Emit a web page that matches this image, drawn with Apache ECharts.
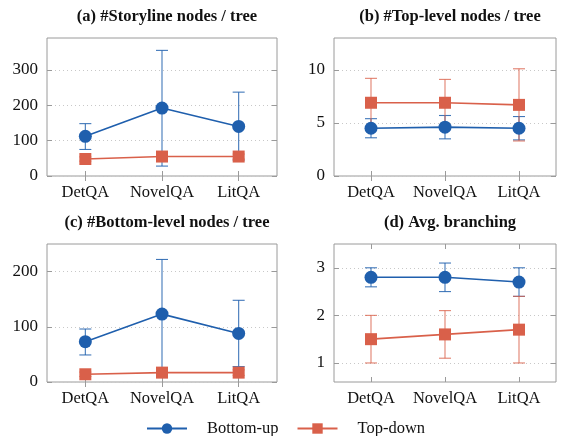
<!DOCTYPE html>
<html><head><meta charset="utf-8">
<script src="https://cdn.jsdelivr.net/npm/echarts@6/dist/echarts.min.js"></script>
<style>html,body{margin:0;padding:0;background:#fff}#c{width:566px;height:436px}</style>
</head><body><div id="c"></div>
<script>
const categories = ['DetQA', 'NovelQA', 'LitQA'];
const seriesNames = ['Bottom-up', 'Top-down'];
const panelTitles = ['(a) #Storyline nodes / tree', '(b) #Top-level nodes / tree', '(c) #Bottom-level nodes / tree', '(d) Avg. branching'];

// (a) Storyline nodes
const aBottomUp = [112, 192, 140];
const aBottomUpLow = [75, 28, 45];
const aBottomUpHigh = [148, 355, 237];
const aTopDown = [48, 55, 55];
const aTopDownLow = [42, 48, 48];
const aTopDownHigh = [54, 62, 62];
// (b) Top-level nodes
const bBottomUp = [4.5, 4.6, 4.5];
const bBottomUpLow = [3.6, 3.5, 3.4];
const bBottomUpHigh = [5.4, 5.7, 5.6];
const bTopDown = [6.9, 6.9, 6.7];
const bTopDownLow = [4.6, 4.7, 3.3];
const bTopDownHigh = [9.2, 9.1, 10.1];
// (c) Bottom-level nodes
const cBottomUp = [73, 123, 88];
const cBottomUpLow = [49, 20, 28];
const cBottomUpHigh = [96, 222, 148];
const cTopDown = [14, 17, 17];
const cTopDownLow = [10, 12, 12];
const cTopDownHigh = [18, 22, 22];
// (d) Avg. branching
const dBottomUp = [2.8, 2.8, 2.7];
const dBottomUpLow = [2.6, 2.5, 2.4];
const dBottomUpHigh = [3.0, 3.1, 3.0];
const dTopDown = [1.5, 1.6, 1.7];
const dTopDownLow = [1.0, 1.1, 1.0];
const dTopDownHigh = [2.0, 2.1, 2.4];

// axis ranges and tick labels
const yMins = [0, 0, 0, 0.6];
const yMaxs = [390, 13, 250, 3.5];
const yTicks = [[0, 100, 200, 300], [0, 5, 10], [0, 100, 200], [1, 2, 3]];

const BLUE = '#1f5fad';
const RED = '#d9604a';
const FONT = '"Liberation Serif", "DejaVu Serif", serif';

const panels = [
  {bu: aBottomUp, buL: aBottomUpLow, buH: aBottomUpHigh, td: aTopDown, tdL: aTopDownLow, tdH: aTopDownHigh},
  {bu: bBottomUp, buL: bBottomUpLow, buH: bBottomUpHigh, td: bTopDown, tdL: bTopDownLow, tdH: bTopDownHigh},
  {bu: cBottomUp, buL: cBottomUpLow, buH: cBottomUpHigh, td: cTopDown, tdL: cTopDownLow, tdH: cTopDownHigh},
  {bu: dBottomUp, buL: dBottomUpLow, buH: dBottomUpHigh, td: dTopDown, tdL: dTopDownLow, tdH: dTopDownHigh}
];

const gridPos = [
  {left: 47, top: 38, width: 230, height: 138},
  {left: 334, top: 38, width: 222, height: 138},
  {left: 47, top: 244, width: 230, height: 138},
  {left: 334, top: 244, width: 222, height: 138}
];

const grids = [], xAxes = [], yAxes = [], series = [], titles = [];
const TICK = '#9a9a9a';

gridPos.forEach((g, i) => {
  grids.push(Object.assign({show: true, borderColor: '#9a9a9a', borderWidth: 1, backgroundColor: 'transparent'}, g));
  titles.push({
    text: panelTitles[i], left: g.left + g.width / 2, top: g.top - 35, textAlign: 'center',
    textStyle: {fontFamily: FONT, fontWeight: 'bold', fontSize: 16.5, color: '#111'}
  });
  xAxes.push({
    type: 'category', gridIndex: i, data: categories, position: 'bottom',
    axisLine: {show: false}, boundaryGap: true,
    axisTick: {show: true, alignWithLabel: true, inside: true, length: 5, lineStyle: {color: TICK}},
    axisLabel: {fontFamily: FONT, fontSize: 16.5, color: '#111', margin: 8, interval: 0},
    splitLine: {show: false}
  });
  xAxes.push({
    type: 'category', gridIndex: i, data: categories, position: 'top',
    axisLine: {show: false}, boundaryGap: true,
    axisTick: {show: true, alignWithLabel: true, inside: true, length: 5, lineStyle: {color: TICK}},
    axisLabel: {show: false}, splitLine: {show: false}
  });
  const ticks = yTicks[i];
  yAxes.push({
    type: 'value', gridIndex: i, min: yMins[i], max: yMaxs[i], position: 'left',
    axisLine: {show: false},
    axisTick: {show: true, inside: true, length: 5, lineStyle: {color: TICK}, customValues: ticks},
    axisLabel: {fontFamily: FONT, fontSize: 17, color: '#111', margin: 9, customValues: ticks},
    splitLine: {show: true, lineStyle: {color: '#c8c8c8', type: [1, 3], width: 1}}
  });
  yAxes.push({
    type: 'value', gridIndex: i, min: yMins[i], max: yMaxs[i], position: 'right',
    axisLine: {show: false},
    axisTick: {show: true, inside: true, length: 5, lineStyle: {color: TICK}, customValues: ticks},
    axisLabel: {show: false}, splitLine: {show: false}
  });

  const p = panels[i];
  const xi = i * 2, yi = i * 2;
  function errSeries(vals, lows, highs, color, opacity) {
    return {
      type: 'custom', xAxisIndex: xi, yAxisIndex: yi, z: 1, silent: true,
      data: vals.map((v, k) => [k, lows[k], highs[k]]),
      renderItem: function (params, api) {
        const x = api.value(0);
        const lo = api.coord([x, api.value(1)]);
        const hi = api.coord([x, api.value(2)]);
        const cap = 6;
        const st = {stroke: color, lineWidth: 1.1, opacity: opacity};
        return {type: 'group', children: [
          {type: 'line', shape: {x1: lo[0], y1: lo[1], x2: hi[0], y2: hi[1]}, style: st},
          {type: 'line', shape: {x1: lo[0] - cap, y1: lo[1], x2: lo[0] + cap, y2: lo[1]}, style: st},
          {type: 'line', shape: {x1: hi[0] - cap, y1: hi[1], x2: hi[0] + cap, y2: hi[1]}, style: st}
        ]};
      }
    };
  }
  series.push(errSeries(p.bu, p.buL, p.buH, BLUE, 0.85));
  series.push(errSeries(p.td, p.tdL, p.tdH, RED, 0.8));
  series.push({
    name: seriesNames[0], type: 'line', xAxisIndex: xi, yAxisIndex: yi, z: 3,
    data: p.bu, symbol: 'circle', symbolSize: 13,
    lineStyle: {color: BLUE, width: 1.6}, itemStyle: {color: BLUE}, emphasis: {disabled: true}
  });
  series.push({
    name: seriesNames[1], type: 'line', xAxisIndex: xi, yAxisIndex: yi, z: 2,
    data: p.td, symbol: 'rect', symbolSize: 12,
    lineStyle: {color: RED, width: 1.6}, itemStyle: {color: RED}, emphasis: {disabled: true}
  });
});

const chart = echarts.init(document.getElementById('c'), null, {renderer: 'canvas'});
chart.setOption({
  animation: false,
  title: titles,
  grid: grids,
  xAxis: xAxes,
  yAxis: yAxes,
  legend: {
    data: seriesNames, left: 141, top: 415, itemWidth: 40, itemHeight: 13, itemGap: 18,
    textStyle: {fontFamily: FONT, fontSize: 16.5, color: '#111', padding: [0, 0, 0, 15]}
  },
  series: series
});
</script>
</body></html>
